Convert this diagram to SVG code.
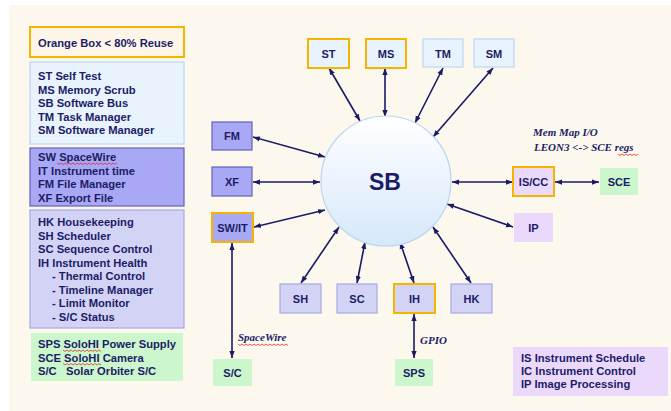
<svg xmlns="http://www.w3.org/2000/svg" width="671" height="411" viewBox="0 0 671 411">
<defs>
<linearGradient id="sbg" x1="0" y1="0" x2="0" y2="1">
<stop offset="0" stop-color="#ffffff"/>
<stop offset="1" stop-color="#d6e8fb"/>
</linearGradient>
<marker id="ah" viewBox="0 0 8 6" refX="8" refY="3" markerWidth="7" markerHeight="6" markerUnits="userSpaceOnUse" orient="auto-start-reverse">
<path d="M0,0 L8,3 L0,6 z" fill="#1a1a66"/>
</marker>
<style>
text{font-family:"Liberation Sans",Arial,sans-serif;font-weight:bold;fill:#1c1c66;}
.lg{font-size:11.2px;}
.nl{font-size:11px;text-anchor:middle;}
.an{font-family:"Liberation Serif","Times New Roman",serif;font-style:italic;font-size:11px;}
.c line{stroke:#1a1a66;stroke-width:1.6;marker-start:url(#ah);marker-end:url(#ah);}
.lb{fill:#e8f3fd;stroke:#bcd8f3;stroke-width:1.2;}
.pu{fill:#a8a8f4;stroke:#6262bd;stroke-width:1.2;}
.lv{fill:#d3d3f6;stroke:#a8a8e6;stroke-width:1.2;}
.gr{fill:#ccf6cc;}
.lp{fill:#ebd9fc;}
.or{stroke:#f5b400;stroke-width:2;}
.sq{fill:none;stroke:#e03030;stroke-width:0.8;}
</style>
</defs>
<rect x="0" y="0" width="671" height="411" fill="#ffffff"/>
<rect x="9" y="5" width="662" height="406" fill="#fdf8ee"/>

<g id="legend">
<rect x="30" y="27" width="154" height="30" fill="#fdf6e8" class="or"/>
<text class="lg" x="38" y="47">Orange Box &lt; 80% Reuse</text>
<rect x="30" y="62" width="154" height="82" class="lb"/>
<text class="lg" x="38" y="80">ST Self Test</text>
<text class="lg" x="38" y="93.5">MS Memory Scrub</text>
<text class="lg" x="38" y="107">SB Software Bus</text>
<text class="lg" x="38" y="120.5">TM Task Manager</text>
<text class="lg" x="38" y="134">SM Software Manager</text>
<rect x="30" y="148" width="154" height="58" class="pu"/>
<text class="lg" x="38" y="161">SW SpaceWire</text>
<text class="lg" x="38" y="174.5">IT Instrument time</text>
<text class="lg" x="38" y="188">FM File Manager</text>
<text class="lg" x="38" y="201.5">XF Export File</text>
<rect x="30" y="210" width="154" height="118" class="lv"/>
<text class="lg" x="38" y="226">HK Housekeeping</text>
<text class="lg" x="38" y="239.5">SH Scheduler</text>
<text class="lg" x="38" y="253">SC Sequence Control</text>
<text class="lg" x="38" y="266.5">IH Instrument Health</text>
<text class="lg" x="52" y="280">- Thermal Control</text>
<text class="lg" x="52" y="293.5">- Timeline Manager</text>
<text class="lg" x="52" y="307">- Limit Monitor</text>
<text class="lg" x="52" y="320.5">- S/C Status</text>
<rect x="31" y="333" width="152" height="48" class="gr"/>
<text class="lg" x="38" y="348">SPS SoloHI Power Supply</text>
<text class="lg" x="38" y="361.5">SCE SoloHI Camera</text>
<text class="lg" x="38" y="375">S/C<tspan x="66">Solar Orbiter S/C</tspan></text>
<rect x="513" y="347" width="155" height="49" class="lp"/>
<text class="lg" x="521" y="362">IS Instrument Schedule</text>
<text class="lg" x="521" y="375">IC Instrument Control</text>
<text class="lg" x="521" y="388">IP Image Processing</text>
<polyline class="sq" points="57,163 59,164.5 61,163 63,164.5 65,163 67,164.5 69,163 71,164.5 73,163 75,164.5 77,163 79,164.5 81,163 83,164.5 85,163 87,164.5 89,163 91,164.5 93,163 95,164.5 97,163 99,164.5 101,163 103,164.5 105,163 107,164.5 109,163 111,164.5 113,163 115,164.5 117,163"/>
<polyline class="sq" points="63,350 65,351.5 67,350 69,351.5 71,350 73,351.5 75,350 77,351.5 79,350 81,351.5 83,350 85,351.5 87,350 89,351.5 91,350 93,351.5 95,350 97,351.5 99,350 101,351.5"/>
<polyline class="sq" points="63,363.5 65,365 67,363.5 69,365 71,363.5 73,365 75,363.5 77,365 79,363.5 81,365 83,363.5 85,365 87,363.5 89,365 91,363.5 93,365 95,363.5 97,365 99,363.5 101,365"/>
</g>

<g class="c" id="connectors">
<line x1="329" y1="68" x2="360" y2="121"/>
<line x1="385" y1="68" x2="385" y2="117"/>
<line x1="443" y1="68" x2="415" y2="123"/>
<line x1="493" y1="68" x2="433" y2="137"/>
<line x1="253" y1="137" x2="325" y2="157"/>
<line x1="253" y1="182" x2="320" y2="182"/>
<line x1="254" y1="227" x2="325" y2="210"/>
<line x1="301" y1="283" x2="339" y2="227"/>
<line x1="357" y1="283" x2="365" y2="242"/>
<line x1="414" y1="283" x2="400" y2="242"/>
<line x1="471" y1="283" x2="433" y2="227"/>
<line x1="232" y1="243" x2="232" y2="358"/>
<line x1="414" y1="314" x2="414" y2="358"/>
<line x1="452" y1="182" x2="513" y2="182"/>
<line x1="555" y1="182" x2="599" y2="182"/>
<line x1="447" y1="204" x2="513" y2="227"/>
</g>

<g id="SB">
<circle cx="386" cy="181" r="65" fill="url(#sbg)" stroke="#b9d5f2" stroke-width="1.2"/>
<text x="385" y="190" style="font-size:23px;text-anchor:middle;">SB</text>
</g>
<g id="ST"><rect x="308" y="39" width="41" height="29" class="lb or"/><text class="nl" x="328.5" y="58">ST</text></g>
<g id="MS"><rect x="366" y="39" width="40" height="29" class="lb or"/><text class="nl" x="386" y="58">MS</text></g>
<g id="TM"><rect x="423" y="39" width="40" height="28" class="lb"/><text class="nl" x="443" y="58">TM</text></g>
<g id="SM"><rect x="474" y="39" width="40" height="28" class="lb"/><text class="nl" x="494" y="58">SM</text></g>
<g id="FM"><rect x="212" y="122" width="40" height="28" class="pu"/><text class="nl" x="232" y="140">FM</text></g>
<g id="XF"><rect x="212" y="167" width="40" height="29" class="pu"/><text class="nl" x="232" y="186">XF</text></g>
<g id="SWIT"><rect x="212" y="213" width="41" height="29" class="pu or"/><text class="nl" x="232.5" y="232">SW/IT</text></g>
<g id="SH"><rect x="280" y="284" width="41" height="29" class="lv"/><text class="nl" x="300.5" y="303">SH</text></g>
<g id="SC"><rect x="337" y="284" width="40" height="29" class="lv"/><text class="nl" x="357" y="303">SC</text></g>
<g id="IH"><rect x="394" y="284" width="41" height="29" class="lv or"/><text class="nl" x="414.5" y="303">IH</text></g>
<g id="HK"><rect x="451" y="284" width="41" height="29" class="lv"/><text class="nl" x="471.5" y="303">HK</text></g>
<g id="SC2"><rect x="213" y="359" width="39" height="27" class="gr"/><text class="nl" x="232.5" y="377">S/C</text></g>
<g id="SPS"><rect x="395" y="359" width="38" height="27" class="gr"/><text class="nl" x="414" y="377">SPS</text></g>
<g id="ISCC"><rect x="513" y="167" width="41" height="29" class="lp or"/><text class="nl" x="533.5" y="186">IS/CC</text></g>
<g id="SCE"><rect x="600" y="168" width="38" height="27" class="gr"/><text class="nl" x="619" y="186">SCE</text></g>
<g id="IP"><rect x="514" y="213" width="39" height="29" class="lp"/><text class="nl" x="533.5" y="232">IP</text></g>

<g id="annotations">
<text class="an" x="533" y="136">Mem Map I/O</text>
<text class="an" x="534" y="151">LEON3 &lt;-&gt; SCE regs</text>
<text class="an" x="238" y="341">SpaceWire</text>
<text class="an" x="420" y="344">GPIO</text>
<polyline class="sq" points="618,154 620,155.5 622,154 624,155.5 626,154 628,155.5 630,154 632,155.5 634,154 636,155.5 638,154"/>
<polyline class="sq" points="238,344 240,345.5 242,344 244,345.5 246,344 248,345.5 250,344 252,345.5 254,344 256,345.5 258,344 260,345.5 262,344 264,345.5 266,344 268,345.5 270,344 272,345.5 274,344 276,345.5 278,344 280,345.5 282,344 284,345.5 286,344 288,345.5"/>
</g>
</svg>
